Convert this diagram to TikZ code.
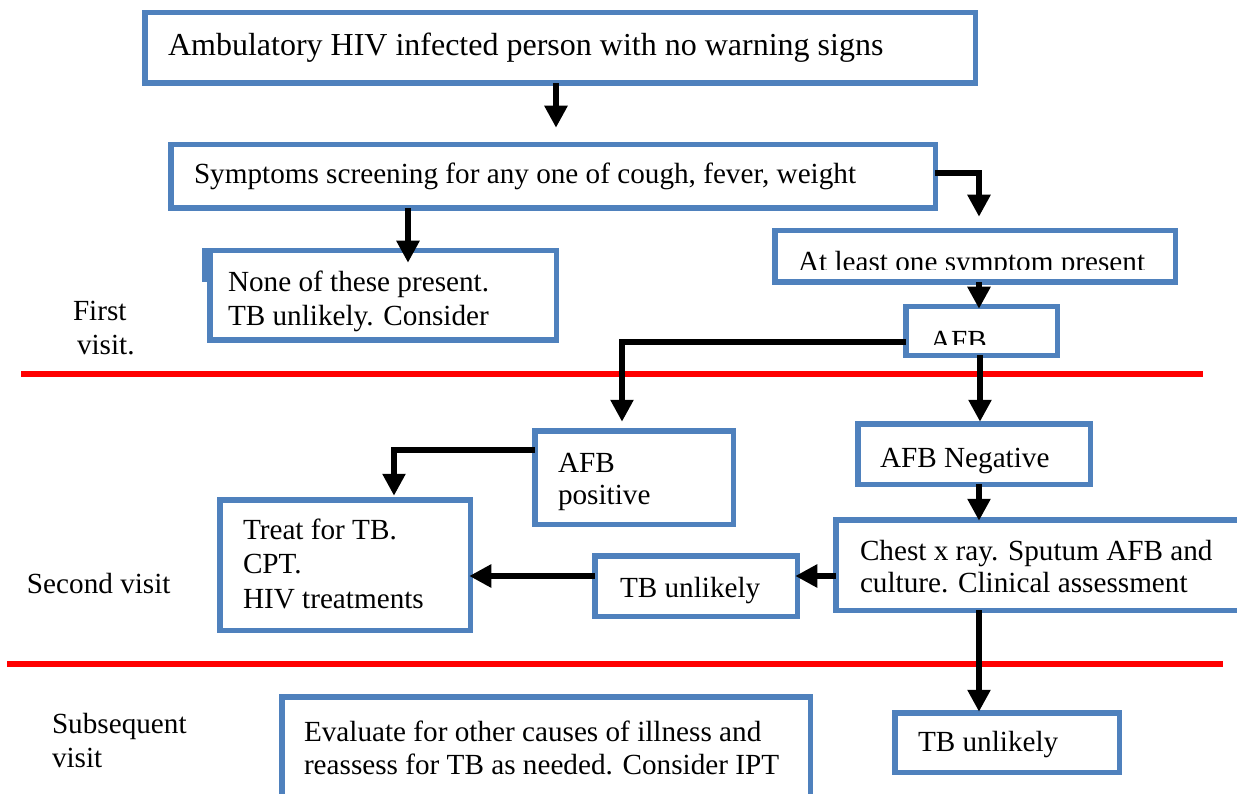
\documentclass[tikz,border=0pt]{standalone}
\usepackage{fontspec}
\setmainfont{Liberation Serif}
\usetikzlibrary{arrows.meta}
\definecolor{boxblue}{HTML}{4F81BD}
\newcommand\mkbox[5]{%
  \node[box, minimum width={#4-#2-5.5}, minimum height={#5-#3-5.5}] (#1) at ({(#2+#4)/2},{(#3+#5)/2}) {};}
\begin{document}
\begin{tikzpicture}[x=1pt,y=-1pt,
  box/.style={draw=boxblue, line width=5.5pt, rectangle, inner sep=0pt, outer sep=0pt, fill=none},
  txt/.style={anchor=base west, inner sep=0pt, outer sep=0pt, font=\fontsize{29.2}{34}\selectfont},
  bigtxt/.style={txt, font=\fontsize{32}{38}\selectfont},
  arr/.style={line width=6pt, -{Triangle[length=22pt,width=22pt]}},
  sep/.style={draw=red, line width=6pt}]
\useasboundingbox (0,0) rectangle (1237,794);
\clip (0,0) rectangle (1237,794);
% separator lines
\draw[sep] (21,374) -- (1203,374);
\draw[sep] (7,664) -- (1223,664);
% boxes
\mkbox{top}{142}{10}{978}{86}
\mkbox{sym}{168}{142}{938}{211}
\mkbox{none}{207}{248}{559}{343}
\fill[boxblue] (202,248) rectangle (208,282);
\mkbox{atl}{772}{228}{1178}{285}
\mkbox{afb}{903}{304}{1060}{358}
\mkbox{afbpos}{532}{428}{736}{527}
\mkbox{afbneg}{855}{421}{1093}{487}
\mkbox{treat}{217}{497}{473}{633}
\mkbox{tbmid}{592}{553}{800}{619}
\mkbox{chest}{833}{517}{1242}{613}
\mkbox{tbbot}{892}{710}{1122}{775}
\mkbox{eval}{279}{694}{813}{802}
% texts
\node[bigtxt] (ttop) at (168,56) {Ambulatory HIV infected person with no warning signs};
\node[txt] (tsym) at (194,184) {Symptoms screening for any one of cough, fever, weight};
\node[txt] (tnone1) at (228,292) {None of these present.};
\node[txt] (tnone2) at (228,326) {TB unlikely. Consider};
\begin{scope}
  \clip (776,230) rectangle (1175,270);
  \node[txt] (tatl) at (798,272) {At least one symptom present};
\end{scope}
\begin{scope}
  \clip (907,307) rectangle (1057,344);
  \node[txt] (tafb) at (930,350) {AFB};
\end{scope}
\node[txt] (tpos1) at (558,472) {AFB};
\node[txt] (tpos2) at (558,504) {positive};
\node[txt] (tneg) at (880,467) {AFB Negative};
\node[txt] (ttreat1) at (243,539) {Treat for TB.};
\node[txt] (ttreat2) at (243,573) {CPT.};
\node[txt] (ttreat3) at (243,608) {HIV treatments};
\node[txt] (ttbmid) at (620,597) {TB unlikely};
\node[txt] (tchest1) at (860,560) {Chest x ray. Sputum AFB and};
\node[txt] (tchest2) at (860,592) {culture. Clinical assessment};
\node[txt] (ttbbot) at (918,751) {TB unlikely};
\node[txt] (teval1) at (304,741) {Evaluate for other causes of illness and};
\node[txt] (teval2) at (304,774) {reassess for TB as needed. Consider IPT};
% visit labels
\node[txt] (lfirst1) at (73,320) {First};
\node[txt] (lfirst2) at (77,354) {visit.};
\node[txt] (lsecond) at (27,593) {Second visit};
\node[txt] (lsub1) at (52,733) {Subsequent};
\node[txt] (lsub2) at (52,767) {visit};
% connectors
\draw[arr, shorten >=17pt] (top.south -| 556,0) -- (sym.north -| 556,0);
\draw[arr, shorten >=14pt] (sym.east |- 0,173) -| (atl.north -| 979,0);
\draw[arr, shorten >=-12pt] (sym.south -| 408,0) -- (none.north -| 408,0);
\draw[arr, shorten >=-2pt] (atl.south -| 979,0) -- (afb.north -| 979,0);
\draw[arr, shorten >=9pt] (afb.west |- 0,342) -| (afbpos.north -| 622,0);
\draw[arr, shorten >=2pt] (afb.south -| 980,0) -- (afbneg.north -| 980,0);
\draw[arr, shorten >=4pt] (afbpos.west |- 0,450) -| (treat.north -| 394,0);
\draw[arr, shorten >=-1pt] (afbneg.south -| 979,0) -- (chest.north -| 979,0);
\draw[arr, shorten >=-2pt] (chest.west |- 0,576) -- (tbmid.east |- 0,576);
\draw[arr, shorten >=-1pt] (tbmid.west |- 0,576) -- (treat.east |- 0,576);
\draw[arr, shorten >=1pt] (chest.south -| 979,0) -- (tbbot.north -| 979,0);
\end{tikzpicture}
\end{document}
